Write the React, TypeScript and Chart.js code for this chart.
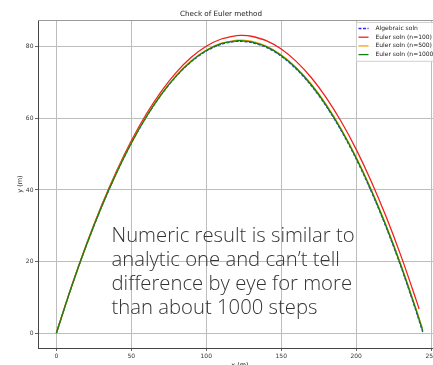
import React, { useEffect, useRef } from "react";
import { Chart, registerables } from "chart.js";

Chart.register(...registerables);

const TITLE = "Check of Euler method";
const X_LABEL = "x (m)";
const Y_LABEL = "y (m)";
const NOTE_LINES = [
  "Numeric result is similar to",
  "analytic one and can\u2019t tell",
  "difference by eye for more",
  "than about 1000 steps",
];

const X_TICKS = [0, 50, 100, 150, 200, 250];
const Y_TICKS = [0, 20, 40, 60, 80];

const SERIES_LABELS = [
  "Algebraic soln",
  "Euler soln (n=100)",
  "Euler soln (n=500)",
  "Euler soln (n=1000)",
];

const xAlg = [0, 10, 20, 30, 40, 50, 60, 70, 80, 90, 100, 110, 120, 122.5, 130, 140, 150, 160, 170, 180, 190, 200, 210, 220, 230, 240, 244.6];
const yAlg = [0, 12.79, 24.49, 35.1, 44.61, 53.04, 60.38, 66.63, 71.79, 75.86, 78.83, 80.72, 81.52, 81.55, 81.23, 79.85, 77.38, 73.81, 69.17, 63.42, 56.59, 48.67, 39.65, 29.55, 18.37, 6.08, 0];

const x100 = [0, 10, 20, 30, 40, 50, 60, 70, 80, 90, 100, 110, 120, 124, 130, 140, 150, 160, 170, 180, 190, 200, 210, 220, 230, 240, 242];
const y100 = [0, 12.92, 24.76, 35.5, 45.14, 53.71, 61.18, 67.56, 72.86, 77.06, 80.16, 82.19, 83.12, 83.2, 82.96, 81.72, 79.38, 75.94, 71.44, 65.82, 59.12, 51.34, 42.45, 32.48, 21.44, 9.28, 6.72];

const x500 = [0, 10, 20, 30, 40, 50, 60, 70, 80, 90, 100, 110, 120, 123, 130, 140, 150, 160, 170, 180, 190, 200, 210, 220, 230, 240, 244.1];
const y500 = [0, 12.82, 24.54, 35.18, 44.72, 53.17, 60.54, 66.82, 72.0, 76.1, 79.1, 81.01, 81.84, 81.87, 81.58, 80.22, 77.78, 74.24, 69.62, 63.9, 57.1, 49.2, 40.21, 30.14, 18.98, 6.72, 1.37];

const x1000 = [0, 10, 20, 30, 40, 50, 60, 70, 80, 90, 100, 110, 120, 122.7, 130, 140, 150, 160, 170, 180, 190, 200, 210, 220, 230, 240, 244.4];
const y1000 = [0, 12.8, 24.52, 35.14, 44.66, 53.11, 60.46, 66.72, 71.9, 75.98, 78.96, 80.87, 81.68, 81.71, 81.4, 80.04, 77.58, 74.02, 69.4, 63.66, 56.84, 48.94, 39.93, 29.84, 18.68, 6.4, 0.67];

const pts = (xs: number[], ys: number[]) => xs.map((x, i) => ({ x, y: ys[i] }));

const FONT = "'DejaVu Sans', sans-serif";

const legendPlugin = {
  id: "innerLegend",
  afterDatasetsDraw(chart: any) {
    const { ctx, chartArea } = chart;
    const right = chartArea.right - 4;
    const top = chartArea.top + 2;
    const left = 356;
    const rowH = 8.7;
    const bottom = top + 4 * rowH + 4;
    ctx.save();
    ctx.fillStyle = "rgba(255,255,255,0.85)";
    ctx.strokeStyle = "#d0d0d0";
    ctx.lineWidth = 1;
    ctx.beginPath();
    ctx.rect(left + 0.5, top + 0.5, right - left, bottom - top);
    ctx.fill();
    ctx.stroke();
    ctx.font = "6px " + FONT;
    ctx.textBaseline = "middle";
    ctx.textAlign = "left";
    chart.data.datasets.forEach((ds: any, i: number) => {
      const cy = top + 6.5 + i * rowH;
      ctx.strokeStyle = ds.borderColor;
      ctx.lineWidth = 1.3;
      ctx.setLineDash(ds.borderDash || []);
      ctx.beginPath();
      ctx.moveTo(left + 2.5, cy);
      ctx.lineTo(left + 12.5, cy);
      ctx.stroke();
      ctx.setLineDash([]);
      ctx.fillStyle = "#222";
      ctx.fillText(ds.label, left + 19.5, cy);
    });
    ctx.restore();
  },
};

const frameTopPlugin = {
  id: "frameTop",
  beforeDatasetsDraw(chart: any) {
    const { ctx, chartArea } = chart;
    ctx.save();
    ctx.strokeStyle = "#9a9a9a";
    ctx.lineWidth = 1;
    ctx.beginPath();
    ctx.moveTo(chartArea.left, chartArea.top + 0.5);
    ctx.lineTo(chartArea.right, chartArea.top + 0.5);
    ctx.stroke();
    ctx.restore();
  },
};

export default function App() {
  const canvasRef = useRef<HTMLCanvasElement | null>(null);

  useEffect(() => {
    if (!canvasRef.current) return;
    const common = {
      pointRadius: 0,
      borderWidth: 1.3,
      fill: false,
      tension: 0.3,
    };
    const chart = new Chart(canvasRef.current, {
      type: "line",
      data: {
        datasets: [
          { ...common, label: SERIES_LABELS[0], data: pts(xAlg, yAlg), borderColor: "#2b2bff", borderDash: [3, 1.5], order: 4 },
          { ...common, label: SERIES_LABELS[1], data: pts(x100, y100), borderColor: "#f02020", order: 3 },
          { ...common, label: SERIES_LABELS[2], data: pts(x500, y500), borderColor: "#ffa500", order: 2 },
          { ...common, label: SERIES_LABELS[3], data: pts(x1000, y1000), borderColor: "#108010", order: 1 },
        ] as any,
      },
      options: {
        animation: false,
        responsive: false,
        devicePixelRatio: 1,
        layout: { padding: { left: 0, right: 8, top: 0, bottom: 0 } },
        plugins: {
          legend: { display: false },
          tooltip: { enabled: false },
          title: {
            display: true,
            text: TITLE,
            color: "#222",
            font: { family: FONT, size: 7.2, weight: "normal" as any, lineHeight: 1.2 },
            padding: { top: 9.5, bottom: 1.86 },
          },
        },
        scales: {
          x: {
            type: "linear",
            min: -12.25,
            max: 257.25,
            afterBuildTicks: (s: any) => {
              s.ticks = X_TICKS.map((v) => ({ value: v }));
            },
            afterFit: (s: any) => {
              s.height = 24;
            },
            grid: { color: "#bdbdbd", lineWidth: 1, tickLength: 3, tickColor: "#666" },
            border: { color: "#444", width: 1 },
            ticks: { color: "#333", font: { family: FONT, size: 6 }, padding: 2, maxRotation: 0 },
            title: {
              display: true,
              text: X_LABEL,
              color: "#222",
              font: { family: FONT, size: 6.5 },
              padding: { top: 0, bottom: 3 },
            },
          },
          y: {
            type: "linear",
            min: -4.17,
            max: 87.5,
            afterBuildTicks: (s: any) => {
              s.ticks = Y_TICKS.map((v) => ({ value: v }));
            },
            afterFit: (s: any) => {
              s.width = 38;
            },
            grid: { color: "#bdbdbd", lineWidth: 1, tickLength: 3, tickColor: "#666" },
            border: { color: "#444", width: 1 },
            ticks: { color: "#333", font: { family: FONT, size: 6 }, padding: 1.5 },
            title: {
              display: true,
              text: Y_LABEL,
              color: "#222",
              font: { family: FONT, size: 6.5 },
              padding: { top: 16, bottom: 0 },
            },
          },
        },
      } as any,
      plugins: [frameTopPlugin, legendPlugin],
    });
    return () => chart.destroy();
  }, []);

  return (
    <div
      style={{
        position: "fixed",
        left: 0,
        top: 0,
        width: 433,
        height: 365,
        overflow: "hidden",
        background: "#fff",
      }}
    >
      <canvas ref={canvasRef} width={450} height={372} style={{ width: 450, height: 372, display: "block" }} />
      <div
        style={{
          position: "absolute",
          left: 111.5,
          top: 222,
          fontFamily: "'Open Sans', sans-serif",
          fontWeight: 300,
          fontSize: 20.3,
          lineHeight: "24px",
          color: "#333",
          whiteSpace: "nowrap",
          pointerEvents: "none",
        }}
      >
        {NOTE_LINES.map((l, i) => (
          <div key={i}>{l}</div>
        ))}
      </div>
    </div>
  );
}
